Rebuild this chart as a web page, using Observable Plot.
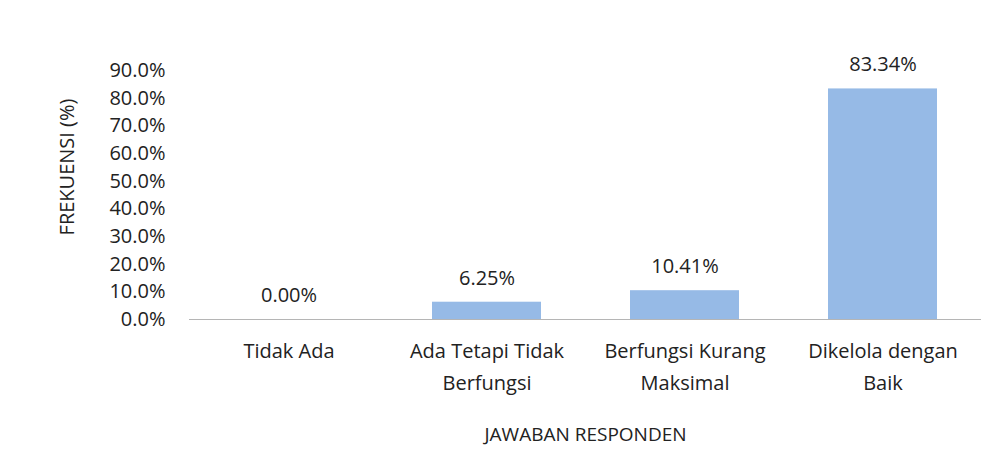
<!DOCTYPE html>
<html><head><meta charset="utf-8">
<script src="https://cdn.jsdelivr.net/npm/d3@7"></script>
<script src="https://cdn.jsdelivr.net/npm/@observablehq/plot@0.6"></script>
<style>body{margin:0;background:#fff;}</style>
</head><body><div id="chart"></div>
<script>
const categories = ["Tidak Ada", "Ada Tetapi Tidak\nBerfungsi", "Berfungsi Kurang\nMaksimal", "Dikelola dengan\nBaik"];
const values = [0, 6.25, 10.41, 83.34];
const valueLabels = ["0.00%", "6.25%", "10.41%", "83.34%"];
const yTicks = [0, 10, 20, 30, 40, 50, 60, 70, 80, 90];
const yTitle = "FREKUENSI (%)";
const xTitle = "JAWABAN RESPONDEN";

const data = categories.map((c, i) => ({category: c, value: values[i], label: valueLabels[i]}));
const font = "'Open Sans', sans-serif";

const chart = Plot.plot({
  width: 1008, height: 468,
  marginTop: 70, marginBottom: 149, marginLeft: 189, marginRight: 27,
  style: {fontFamily: font, fontSize: "20px", color: "#222", background: "#fff"},
  x: {domain: categories, paddingInner: 0.45, paddingOuter: 0.225},
  y: {domain: [0, 90]},
  marks: [
    Plot.barY(data, {x: "category", y: "value", fill: "#96bae6"}),
    Plot.ruleY([0], {stroke: "#b5b5b5", strokeWidth: 1.2}),
    Plot.axisY({ticks: yTicks, tickSize: 0, tickPadding: 24, tickFormat: d => d.toFixed(1) + "%", label: null, fontSize: 20}),
    Plot.axisX({tickSize: 0, tickPadding: 16, label: null, fontSize: 20, lineHeight: 1.6}),
    Plot.text(data, {x: "category", y: "value", text: "label", dy: -24, fontSize: 20}),
    Plot.text([yTitle], {frameAnchor: "left", textAnchor: "middle", rotate: -90, dx: -122, dy: -28, fontSize: 20}),
    Plot.text([xTitle], {frameAnchor: "bottom", dy: 121, fontSize: 19})
  ]
});
document.getElementById("chart").append(chart);
</script>
</body></html>
